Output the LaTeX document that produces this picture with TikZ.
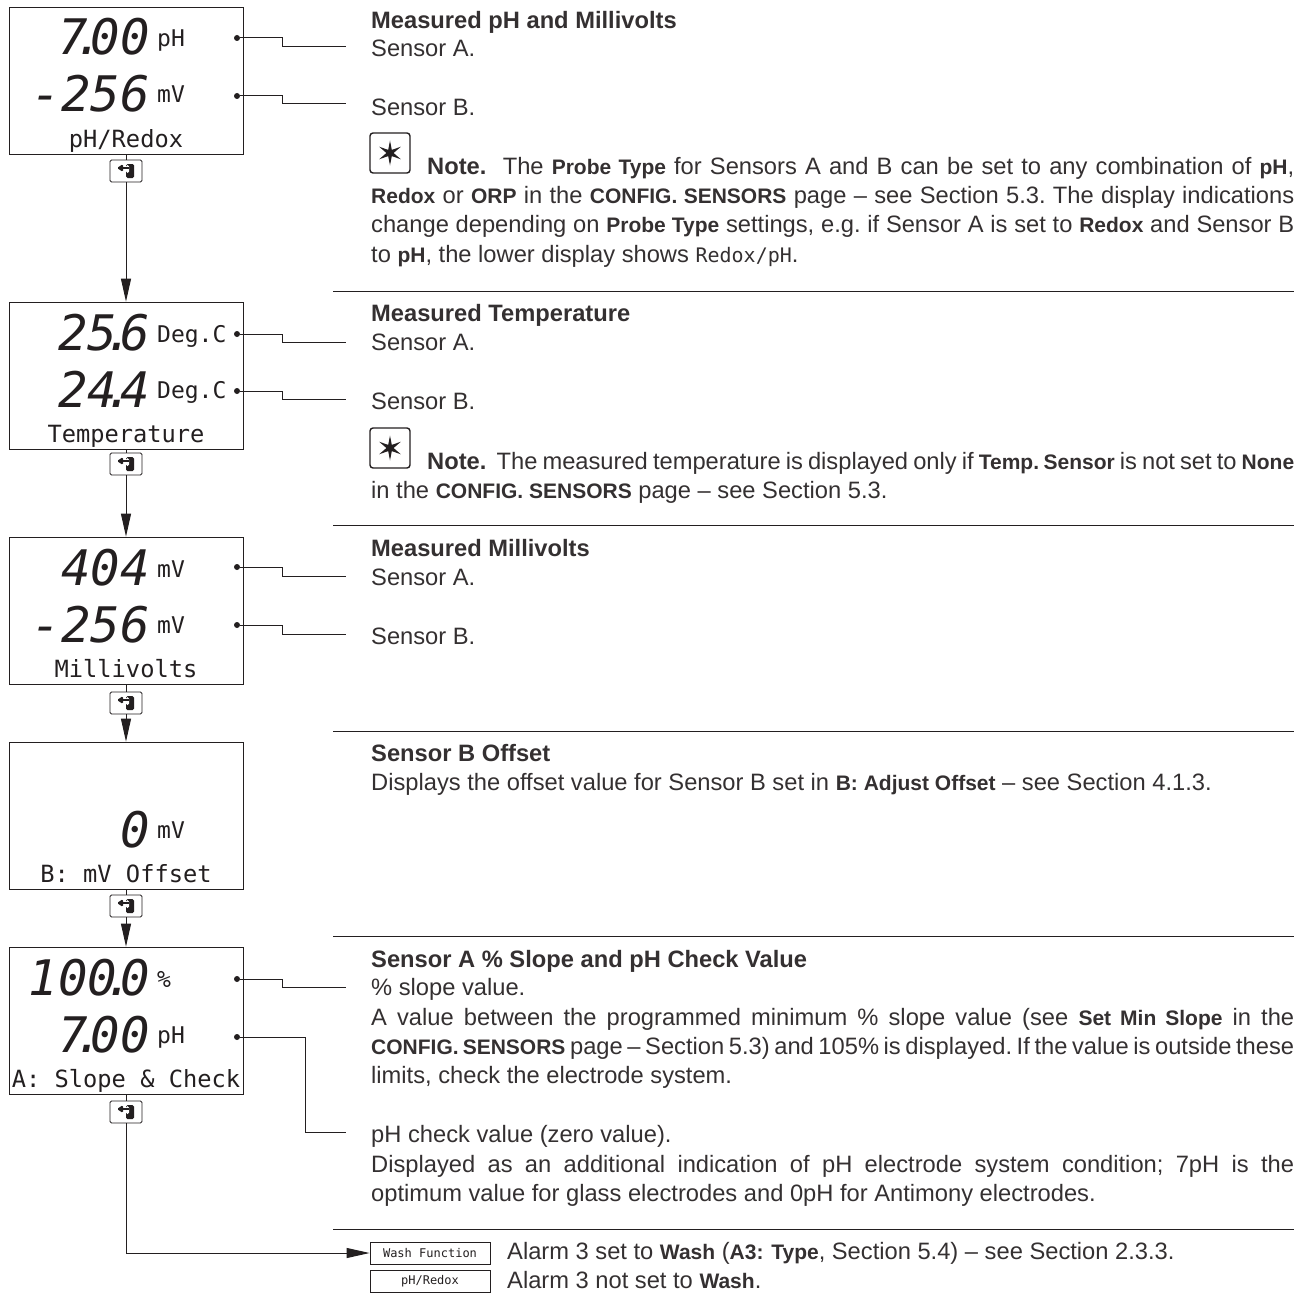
\documentclass[tikz,border=0pt]{standalone}
\usepackage{fontspec}
\setmainfont{Liberation Sans}
\newfontfamily\lcdfont{DejaVu Sans Mono}
\usetikzlibrary{arrows.meta,calc}
\definecolor{inkblack}{RGB}{35,31,32}
\definecolor{inkbody}{RGB}{52,48,49}
\tikzset{
  panel/.style={draw=inkblack, line width=0.7pt, fill=white, minimum width=234pt, minimum height=147pt, inner sep=0pt},
  digits/.style={font=\lcdfont\itshape\fontsize{49}{49}\selectfont, anchor=base east, inner sep=0pt, text=inkblack},
  unit/.style={font=\lcdfont\fontsize{23}{23}\selectfont, anchor=base west, inner sep=0pt, text=inkblack},
  caption/.style={font=\lcdfont\fontsize{23.7}{23.7}\selectfont, anchor=base, inner sep=0pt, text=inkblack},
  dot/.style={circle, fill=inkblack, minimum size=6pt, inner sep=0pt},
  wire/.style={inkblack, line width=1pt},
  flow/.style={wire, -{Triangle[length=23pt,width=10pt]}},
  rulecut/.style={inkblack, line width=0.8pt},
  txt/.style={anchor=base west, inner sep=0pt, text=inkbody, font=\fontsize{23.7}{29.3}\selectfont},
  para/.style={anchor=north west, inner sep=0pt, text=inkbody, text width=923pt, align=justify, font=\frenchspacing\fontsize{23.7}{29.3}\selectfont},
  key/.style={draw=inkblack, line width=0.8pt, rounded corners=1.5pt, fill=white, minimum width=32pt, minimum height=22pt, inner sep=0pt,
    path picture={
      \fill[inkblack] ([shift={(0pt,-7pt)}]path picture bounding box.center) rectangle ([shift={(8pt,7pt)}]path picture bounding box.center);
      \fill[white] ([shift={(0pt,-2pt)}]path picture bounding box.center) rectangle ([shift={(3pt,6pt)}]path picture bounding box.center);
      \fill[inkblack] ([shift={(-9pt,3pt)}]path picture bounding box.center) -- ([shift={(-3pt,7pt)}]path picture bounding box.center) -- ([shift={(-3pt,-1pt)}]path picture bounding box.center) -- cycle;
      \draw[inkblack, line width=1.6pt] ([shift={(-4pt,3pt)}]path picture bounding box.center) -- ([shift={(3pt,3pt)}]path picture bounding box.center);
    }},
  softkey/.style={draw=inkblack, line width=0.8pt, fill=white, minimum width=120pt, minimum height=22pt, inner sep=0pt, font=\lcdfont\fontsize{12}{12}\selectfont, text=inkblack},
  noteframe/.style={draw=inkblack, line width=1.4pt, rounded corners=3pt, minimum size=40pt, inner sep=0pt}
}
\newcommand{\kw}[1]{{\bfseries\fontsize{21}{21}\selectfont #1}}
\newcommand{\hd}[1]{{\bfseries #1}}
\newcommand{\lcdpt}{\makebox[3pt]{.}}
% one display panel: name, top edge, first reading, first unit, second reading, second unit, caption
\newcommand{\lcdpanel}[7]{%
  \node[panel] (#1) at (126,#2+73.5) {};
  \node[digits] (#1num) at (150,#2+48) {#3};
  \node[unit] (#1unit) at (157,#2+40) {#4};
  \node[digits] (#1numb) at (150,#2+105) {#5};
  \node[unit] (#1unitb) at (157,#2+96) {#6};
  \node[caption] (#1cap) at (126,#2+140) {#7};
}
\newcommand{\noteicon}[2]{%
  \node[noteframe] (#1) at (390,#2) {};
  \foreach \a in {90,30,-30} {
    \fill[inkblack] ($(#1)+(\a:12.5pt)$) -- ($(#1)+(\a+90:2.4pt)$) -- ($(#1)+(\a+180:12.5pt)$) -- ($(#1)+(\a-90:2.4pt)$) -- cycle;
  }
}

\begin{document}
\begin{tikzpicture}[x=1pt,y=-1pt]
  \useasboundingbox (0,0) rectangle (1314,1295);
  % display panels
  \lcdpanel{ph}{7}{7\lcdpt00}{pH}{-256}{mV}{pH/Redox}
  \lcdpanel{temp}{302}{25\lcdpt6}{Deg.C}{24\lcdpt4}{Deg.C}{Temperature}
  \lcdpanel{mv}{537}{404}{mV}{-256}{mV}{Millivolts}
  \lcdpanel{offs}{742}{}{}{0}{mV}{B: mV Offset}
  \lcdpanel{slope}{947}{100\lcdpt0}{\%}{7\lcdpt00}{pH}{A: Slope \& Check}
  % keys between the panels
  \foreach \n/\y in {ph/171,temp/464,mv/703,offs/906,slope/1112} {
    \node[key] (key\n) at (126,\y) {};
    \draw[wire] (\n) -- (key\n);
  }
  \draw[flow] (keyph) -- (temp);
  \draw[flow] (keytemp) -- (mv);
  \draw[flow] (keymv) -- (offs);
  \draw[flow] (keyoffs) -- (slope);
  % soft key labels
  \node[softkey] (wash) at (430,1253) {Wash Function};
  \node[softkey] (redox) at (430,1281.5) {pH/Redox};
  \draw[flow] (keyslope) |- (wash);
  % leaders
  \foreach \n/\y/\e in {a/38/47,b/96/104,c/334/342,d/391/399,e/567/576,f/625/634,g/979/987} {
    \node[dot] (dot\n) at (237,\y) {};
    \coordinate (end\n) at (346,\e);
    \draw[wire] (dot\n) -- (282,\y) -- (282,\e) -- (end\n);
  }
  \node[dot] (doth) at (237,1037) {};
  \coordinate (endh) at (346,1132);
  \draw[wire] (doth) -- (305,1037) -- (305,1132) -- (endh);
  % rules
  \foreach \y in {291,525,731,936,1229} {
    \coordinate (rl\y) at (333,\y);
    \coordinate (rr\y) at (1294,\y);
    \draw[rulecut] (rl\y) -- (rr\y);
  }
  % text
  \node[txt] (t1) at (371,29) {\hd{Measured pH and Millivolts}};
  \node[txt] (t2) at (371,57) {Sensor A.};
  \node[txt] (t3) at (371,116) {Sensor B.};
  \noteicon{star1}{153}
  \node[para] (t4) at (371,157) {\hspace*{56pt}\hd{Note.}\ \ The \kw{Probe Type} for Sensors A and B can be set to any combination of \kw{pH},\linebreak
    \kw{Redox} or \kw{ORP} in the \kw{CONFIG. SENSORS} page – see Section 5.3. The display indications\linebreak
    change depending on \kw{Probe Type} settings, e.g. if Sensor A is set to \kw{Redox} and Sensor B\linebreak
    to \kw{pH}, the lower display shows {\lcdfont\fontsize{20}{20}\selectfont Redox/pH}.};
  \node[txt] (t5) at (371,321) {\hd{Measured Temperature}};
  \node[txt] (t6) at (371,350) {Sensor A.};
  \node[txt] (t7) at (371,409) {Sensor B.};
  \noteicon{star2}{448}
  \node[para] (t8) at (371,452) {\hspace*{56pt}\hd{Note.}\ \ The measured temperature is displayed only if \kw{Temp. Sensor} is not set to \kw{None}\linebreak
    in the \kw{CONFIG. SENSORS} page – see Section 5.3.};
  \node[txt] (t9) at (371,556) {\hd{Measured Millivolts}};
  \node[txt] (t10) at (371,585) {Sensor A.};
  \node[txt] (t11) at (371,644) {Sensor B.};
  \node[txt] (t12) at (371,761) {\hd{Sensor B Offset}};
  \node[txt] (t13) at (371,790) {Displays the offset value for Sensor B set in \kw{B: Adjust Offset} – see Section 4.1.3.};
  \node[txt] (t14) at (371,967) {\hd{Sensor A \% Slope and pH Check Value}};
  \node[txt] (t15) at (371,995) {\% slope value.};
  \node[para] (t16) at (371,1008) {A value between the programmed minimum \% slope value (see \kw{Set Min Slope} in the\linebreak
    \kw{CONFIG. SENSORS} page – Section 5.3) and 105\% is displayed. If the value is outside these\linebreak
    limits, check the electrode system.};
  \node[txt] (t17) at (371,1142) {pH check value (zero value).};
  \node[para] (t18) at (371,1155) {Displayed as an additional indication of pH electrode system condition; 7pH is the\linebreak
    optimum value for glass electrodes and 0pH for Antimony electrodes.};
  \node[txt] (t19) at (507,1259) {Alarm 3 set to \kw{Wash} (\kw{A3: Type}, Section 5.4) – see Section 2.3.3.};
  \node[txt] (t20) at (507,1288) {Alarm 3 not set to \kw{Wash}.};
\end{tikzpicture}
\end{document}
